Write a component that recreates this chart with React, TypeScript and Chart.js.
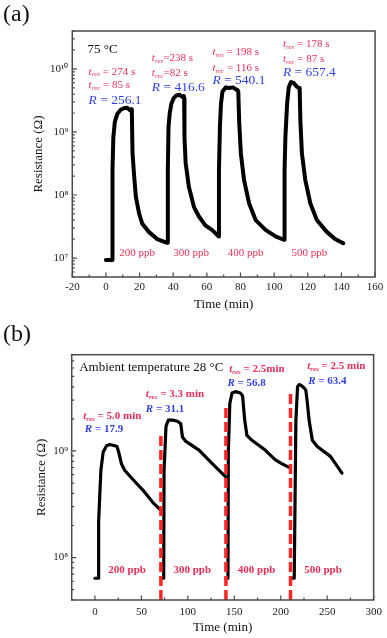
import React, { useEffect, useRef } from 'react';
import { Chart, registerables } from 'chart.js';

Chart.register(...registerables);

const SERIF = "'Liberation Serif', 'Times New Roman', Times, serif";

// ---------- Panel (a): 75 °C ----------
const timeA = [
  0, 3.8, 3.9, 4.4, 5.3, 6.8, 8.8, 11, 12.6, 14.3, 15.1, 15.4, 15.8, 16.8, 17.8, 19.7, 21.6, 25.5, 30.4, 36.0,
  36.6, 36.8, 37.2, 37.9, 38.9, 40.3, 41.9, 43.8, 45.8, 46.3, 46.5, 46.7, 47.4, 49.3, 52.3, 55.2, 59.1, 63, 66.4,
  67.0, 67.2, 67.8, 68.4, 69.3, 71.3, 73.3, 75.5, 77.5, 78.3, 78.7, 79.2, 80.2, 82.1, 85.1, 89, 94.9, 100.8, 105.7,
  106.0, 106.2, 106.7, 107.7, 108.7, 110, 111.6, 113.6, 114.8, 115.2, 115.6, 116.5, 118.5, 121.5, 125.4, 131.3, 136.2, 141.1,
];
const resistanceA = [
  9.3e6, 9.3e6, 2.5e8, 8.3e8, 1.45e9, 1.95e9, 2.25e9, 2.4e9, 2.42e9, 2.2e9, 2.3e9, 2.15e9, 4.6e8, 1.95e8, 9.3e7, 5.1e7, 3.5e7, 2.6e7, 2.0e7, 1.75e7,
  1.75e7, 2.5e8, 1.2e9, 1.95e9, 2.8e9, 3.45e9, 3.8e9, 3.9e9, 3.55e9, 3.7e9, 3.4e9, 8.3e8, 3.2e8, 1.35e8, 6.5e7, 4.6e7, 3.3e7, 2.8e7, 2.3e7,
  2.2e7, 2.5e8, 1.3e9, 2.8e9, 4.4e9, 5.1e9, 5.0e9, 5.1e9, 4.7e9, 4.6e9, 4.3e9, 1.5e9, 4.6e8, 1.74e8, 7.4e7, 4.0e7, 2.8e7, 2.2e7, 1.95e7,
  1.95e7, 2.45e8, 8.3e8, 2.8e9, 5.1e9, 6.2e9, 6.0e9, 5.2e9, 5.0e9, 4.6e9, 1.5e9, 4.6e8, 1.74e8, 7.4e7, 4.0e7, 2.6e7, 2.0e7, 1.72e7,
];
const xTicksA = [-20, 0, 20, 40, 60, 80, 100, 120, 140, 160];
const xMinorA = [-10, 10, 30, 50, 70, 90, 110, 130, 150];
const yTicksA = [1e7, 1e8, 1e9, 1e10];
const concentrations = ['200 ppb', '300 ppb', '400 ppb', '500 ppb'];
const responseA = [' = 274 s', '=238 s', ' = 198 s', ' = 178 s'];
const recoveryA = [' = 85 s', '=82 s', ' = 116 s', ' = 87 s'];
const ratioA = ['256.1', '416.6', '540.1', '657.4'];

// ---------- Panel (b): ambient 28 °C ----------
const timeB = [
  0, 3.7, 4.0, 6.4, 8.9, 12.5, 16, 21.3, 23.8, 25.9, 28.5, 32, 40.9, 51.6, 62.2, 70.5, 70.8,
  71, 74.0, 74.4, 76.5, 79, 83.6, 88.9, 92.4, 94.2, 97.9, 112, 126.3, 140.5, 140.8,
  141, 143.2, 143.6, 145.2, 147.6, 151.2, 156.5, 158.9, 161.2, 163.6, 169, 183.2, 193.9, 201, 210.5, 210.6,
  210.8, 214.5, 216.3, 218.1, 219.9, 222.4, 225.2, 227, 228.7, 230.5, 234, 239.3, 253.5, 265.9,
];
const resistanceB = [
  6.4e7, 6.4e7, 2.2e8, 6.6e8, 9.8e8, 1.12e9, 1.15e9, 1.12e9, 1.1e9, 9.5e8, 7.6e8, 6.6e8, 5.4e8, 4.3e8, 3.3e8, 2.8e8, null,
  6.4e7, 6.4e7, 6.6e8, 1.7e9, 1.95e9, 1.95e9, 1.9e9, 1.8e9, 1.35e9, 1.23e9, 1.02e9, 7.6e8, 5.75e8, null,
  6.4e7, 6.4e7, 1.0e9, 2.8e9, 3.5e9, 3.6e9, 3.5e9, 3.3e9, 1.95e9, 1.4e9, 1.26e9, 1.02e9, 8.3e8, 7.6e8, 6.9e8, null,
  6.4e7, 6.4e7, 1.95e9, 4.0e9, 4.2e9, 4.1e9, 3.9e9, 3.7e9, 2.8e9, 1.95e9, 1.26e9, 1.1e9, 8.9e8, 6.2e8,
];
const gasOnB = [71, 141, 210.5];
const gasOnTopB = [1.5e9, 2.6e9, 3.7e9];
const xTicksB = [0, 50, 100, 150, 200, 250, 300];
const xMinorB = [25, 75, 125, 175, 225, 275];
const yTicksB = [1e8, 1e9];
const responseB = [' = 5.0 min', ' = 3.3 min', ' = 2.5min', ' = 2.5 min'];
const ratioB = ['17.9', '31.1', '56.8', '63.4'];

// annotation anchors (x in min, y as log10 Ω)
const annotA = {
  tempX: -11, tempY: 10.305,
  blockX: [-10.3, 27.3, 63.3, 105.2],
  resY: [9.957, 10.17, 10.26, 10.40],
  recY: [9.736, 9.94, 10.02, 10.16],
  ratioY: [9.5, 9.7, 9.815, 9.94],
  ppbX: [18.5, 50.6, 83, 121], ppbY: 7.08,
};
const annotB = {
  tempX: -16.9, tempY: 9.778,
  blockX: [-12.7, 54.8, 144.5, 228.5],
  resY: [9.328, 9.534, 9.768, 9.797],
  ratioX: [-10.9, 54.8, 142.7, 229.6],
  ratioY: [9.2, 9.394, 9.634, 9.656],
  ppbX: [34.7, 104.8, 174, 245.5], ppbY: 7.885,
};

const RED = '#e5305a';
const BLUE = '#2f3fe0';
const SUP = '⁰¹²³⁴⁵⁶⁷⁸⁹';
const supStr = (n: number) => String(n).split('').map((c) => SUP[+c]).join('');
const font = (style: string, size: number) => `${style} ${size}px ${SERIF}`;

type Seg = { t: string; f: string; dy?: number };
function drawRich(ctx: CanvasRenderingContext2D, segs: Seg[], x: number, y: number, color: string) {
  ctx.fillStyle = color;
  ctx.textBaseline = 'middle';
  ctx.textAlign = 'left';
  let cx = x;
  for (const s of segs) {
    ctx.font = s.f;
    ctx.fillText(s.t, cx, y + (s.dy ?? 0));
    cx += ctx.measureText(s.t).width;
  }
}

function drawAxes(chart: any, xMajor: number[], xMinor: number[], yMajor: number[]) {
  const { ctx, chartArea: a, scales } = chart;
  const x = scales.x, y = scales.y;
  ctx.save();
  ctx.strokeStyle = '#4a4a4a';
  ctx.lineWidth = 1.2;
  ctx.beginPath();
  for (const v of xMajor) {
    const p = x.getPixelForValue(v);
    ctx.moveTo(p, a.bottom); ctx.lineTo(p, a.bottom - 4.5);
  }
  for (const v of xMinor) {
    const p = x.getPixelForValue(v);
    ctx.moveTo(p, a.bottom); ctx.lineTo(p, a.bottom - 2.5);
  }
  const lo = Math.floor(Math.log10(y.min)), hi = Math.ceil(Math.log10(y.max));
  for (let e = lo; e <= hi; e++) {
    for (let m = 1; m <= 9; m++) {
      const v = m * Math.pow(10, e);
      if (v < y.min || v > y.max) continue;
      const p = y.getPixelForValue(v);
      const len = m === 1 && yMajor.includes(v) ? 4.5 : 2.5;
      ctx.moveTo(a.left, p); ctx.lineTo(a.left + len, p);
    }
  }
  ctx.stroke();
  ctx.lineWidth = 1.5;
  ctx.strokeRect(a.left, a.top, a.right - a.left, a.bottom - a.top);
  ctx.restore();
}

const decorA = {
  id: 'decorA',
  afterDraw(chart: any) {
    const { ctx, scales } = chart;
    const x = scales.x, y = scales.y;
    drawAxes(chart, xTicksA, xMinorA, yTicksA);
    const px = (v: number) => x.getPixelForValue(v);
    const py = (l: number) => y.getPixelForValue(Math.pow(10, l));
    ctx.save();
    ctx.font = font('normal', 24);
    ctx.fillStyle = '#111';
    ctx.textBaseline = 'middle';
    ctx.fillText('(a)', 3, 15);
    drawRich(ctx, [{ t: '75 °C', f: font('normal', 13) }], px(annotA.tempX), py(annotA.tempY), '#111');
    for (let i = 0; i < 4; i++) {
      const bx = px(annotA.blockX[i]);
      drawRich(ctx, [
        { t: 't', f: font('italic', 11) },
        { t: 'res', f: font('italic', 7), dy: 3 },
        { t: responseA[i], f: font('normal', 11) },
      ], bx, py(annotA.resY[i]), RED);
      drawRich(ctx, [
        { t: 't', f: font('italic', 11) },
        { t: 'rec', f: font('italic', 7), dy: 3 },
        { t: recoveryA[i], f: font('normal', 11) },
      ], bx, py(annotA.recY[i]), RED);
      drawRich(ctx, [
        { t: 'R', f: font('italic', 13.5) },
        { t: ' = ' + ratioA[i], f: font('normal', 13.5) },
      ], bx, py(annotA.ratioY[i]), BLUE);
      ctx.font = font('normal', 11);
      ctx.fillStyle = RED;
      ctx.textAlign = 'center';
      ctx.fillText(concentrations[i], px(annotA.ppbX[i]), py(annotA.ppbY));
    }
    ctx.restore();
  },
};

const decorB = {
  id: 'decorB',
  afterDraw(chart: any) {
    const { ctx, scales } = chart;
    const x = scales.x, y = scales.y;
    drawAxes(chart, xTicksB, xMinorB, yTicksB);
    const px = (v: number) => x.getPixelForValue(v);
    const py = (l: number) => y.getPixelForValue(Math.pow(10, l));
    ctx.save();
    ctx.font = font('normal', 24);
    ctx.fillStyle = '#111';
    ctx.textBaseline = 'middle';
    ctx.fillText('(b)', 3, 16);
    drawRich(ctx, [{ t: 'Ambient temperature 28 °C', f: font('normal', 13) }], px(annotB.tempX), py(annotB.tempY), '#111');
    for (let i = 0; i < 4; i++) {
      drawRich(ctx, [
        { t: 't', f: font('italic bold', 11) },
        { t: 'res', f: font('italic bold', 7), dy: 3 },
        { t: responseB[i], f: font('bold', 11) },
      ], px(annotB.blockX[i]), py(annotB.resY[i]), RED);
      drawRich(ctx, [
        { t: 'R', f: font('italic bold', 11) },
        { t: ' = ' + ratioB[i], f: font('bold', 11) },
      ], px(annotB.ratioX[i]), py(annotB.ratioY[i]), BLUE);
      ctx.font = font('bold', 11);
      ctx.fillStyle = RED;
      ctx.textAlign = 'center';
      ctx.fillText(concentrations[i], px(annotB.ppbX[i]), py(annotB.ppbY));
    }
    ctx.restore();
  },
};

function axisCommon(ticks: number[], isLog: boolean) {
  return {
    grid: { display: false, drawTicks: false },
    border: { display: false },
    afterBuildTicks: (s: any) => { s.ticks = ticks.map((value) => ({ value })); },
    ticks: {
      autoSkip: false,
      maxRotation: 0,
      color: '#222',
      font: { family: SERIF, size: 11 },
      callback: isLog ? (v: any) => '10' + supStr(Math.round(Math.log10(Number(v)))) : (v: any) => String(v),
    },
  };
}

function configA(): any {
  return {
    type: 'line',
    data: {
      datasets: [{
        data: timeA.map((t, i) => ({ x: t, y: resistanceA[i] })),
        borderColor: '#000',
        borderWidth: 4,
        pointRadius: 0,
        tension: 0,
        borderJoinStyle: 'round',
        borderCapStyle: 'round',
      }],
    },
    options: {
      animation: false,
      responsive: false,
      events: [],
      layout: { padding: { left: 0, right: 9.5, top: 31, bottom: 0 } },
      plugins: { legend: { display: false }, tooltip: { enabled: false } },
      scales: {
        x: {
          type: 'linear', min: -20, max: 160,
          ...axisCommon(xTicksA, false),
          ticks: { ...axisCommon(xTicksA, false).ticks, padding: 3.7 },
          afterFit: (s: any) => { s.height = 42; },
          title: { display: true, text: 'Time (min)', color: '#111', font: { family: SERIF, size: 13 }, padding: { top: 0, bottom: 6.2 } },
        },
        y: {
          type: 'logarithmic', min: 5e6, max: 4e10,
          ...axisCommon(yTicksA, true),
          ticks: { ...axisCommon(yTicksA, true).ticks, padding: 4 },
          afterFit: (s: any) => { s.width = 72.3; },
          title: { display: true, text: 'Resistance (Ω)', color: '#111', font: { family: SERIF, size: 13 }, padding: { top: 31.2, bottom: 0 } },
        },
      },
    },
    plugins: [decorA],
  };
}

function configB(): any {
  const yMin = 4e7;
  const pulses = gasOnB.map((t, i) => ({
    data: [{ x: t, y: yMin }, { x: t, y: gasOnTopB[i] }],
    borderColor: '#ff2626',
    borderWidth: 3.5,
    borderDash: [10, 4],
    pointRadius: 0,
    order: 0,
  }));
  return {
    type: 'line',
    data: {
      datasets: [
        ...pulses,
        {
          data: timeB.map((t, i) => ({ x: t, y: resistanceB[i] })),
          borderColor: '#000',
          borderWidth: 3.2,
          pointRadius: 0,
          tension: 0,
          spanGaps: false,
          borderJoinStyle: 'round',
          borderCapStyle: 'round',
          order: 1,
        },
      ],
    },
    options: {
      animation: false,
      responsive: false,
      events: [],
      layout: { padding: { left: 0, right: 9.7, top: 35.7, bottom: 0 } },
      plugins: { legend: { display: false }, tooltip: { enabled: false } },
      scales: {
        x: {
          type: 'linear', min: -25, max: 300,
          ...axisCommon(xTicksB, false),
          ticks: { ...axisCommon(xTicksB, false).ticks, padding: 5.1 },
          afterFit: (s: any) => { s.height = 38; },
          title: { display: true, text: 'Time (min)', color: '#111', font: { family: SERIF, size: 13 }, padding: { top: 0, bottom: 2.2 } },
        },
        y: {
          type: 'logarithmic', min: yMin, max: 8e9,
          ...axisCommon(yTicksB, true),
          ticks: { ...axisCommon(yTicksB, true).ticks, padding: 3.5 },
          afterFit: (s: any) => { s.width = 71.7; },
          title: { display: true, text: 'Resistance (Ω)', color: '#111', font: { family: SERIF, size: 13 }, padding: { top: 33.9, bottom: 0 } },
        },
      },
    },
    plugins: [decorB],
  };
}

export default function App() {
  const refA = useRef<HTMLCanvasElement>(null);
  const refB = useRef<HTMLCanvasElement>(null);
  useEffect(() => {
    const a = new Chart(refA.current as HTMLCanvasElement, configA());
    const b = new Chart(refB.current as HTMLCanvasElement, configB());
    return () => { a.destroy(); b.destroy(); };
  }, []);
  return (
    <div style={{ position: 'absolute', left: 0, top: 0, width: 387, height: 638, background: '#fff' }}>
      <canvas ref={refA} width={387} height={319} style={{ display: 'block', width: 387, height: 319 }} />
      <canvas ref={refB} width={387} height={319} style={{ display: 'block', width: 387, height: 319 }} />
    </div>
  );
}
